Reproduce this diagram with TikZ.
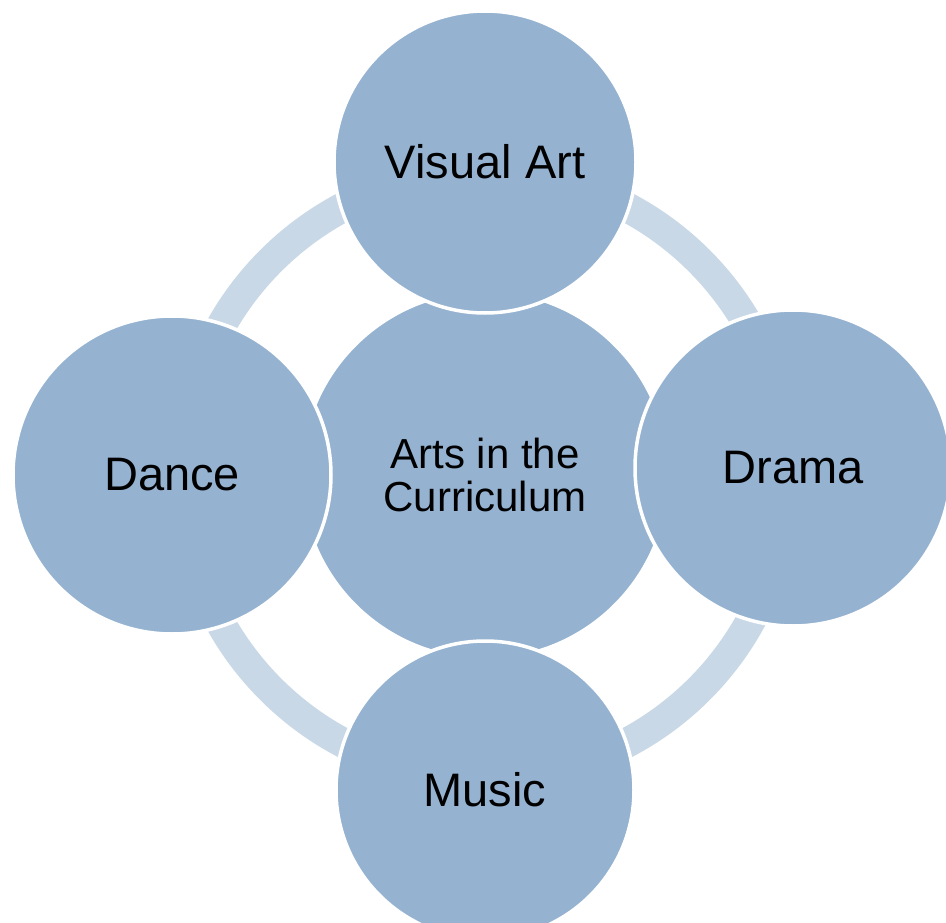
\documentclass[tikz,border=0pt]{standalone}
\usepackage{fontspec}
\setmainfont{Liberation Sans}
\usetikzlibrary{positioning}
\definecolor{artsblue}{HTML}{95B3D1}
\definecolor{ringblue}{HTML}{C8D8E6}

\begin{document}
\begin{tikzpicture}[x=1pt,y=-1pt,node distance=313pt,
	main node/.style={circle,fill=artsblue,draw=white,line width=3.5pt,inner sep=0pt,
		font=\fontsize{47}{50}\selectfont},
	ring/.style={draw=ringblue,line width=30pt}]
	\useasboundingbox (0,0) rectangle (946,923);
	
	\coordinate (hub) at (485,475);
	\draw[ring] (hub) circle (303);
	
	\node[main node, minimum size=368pt, align=center,
		font=\fontsize{42}{43}\selectfont] (arts) at (hub) {Arts in the\\Curriculum};
	\node[main node, minimum size=302pt] (visual) [above of=hub] {Visual Art};
	\node[main node, minimum size=316pt] (drama) [right of=hub, node distance=308pt, yshift=7pt] {Drama};
	\node[main node, minimum size=298pt] (music) [below of=hub, node distance=315pt] {Music};
	\node[main node, minimum size=318pt] (dance) [left of=hub] {Dance};
\end{tikzpicture}
\end{document}
